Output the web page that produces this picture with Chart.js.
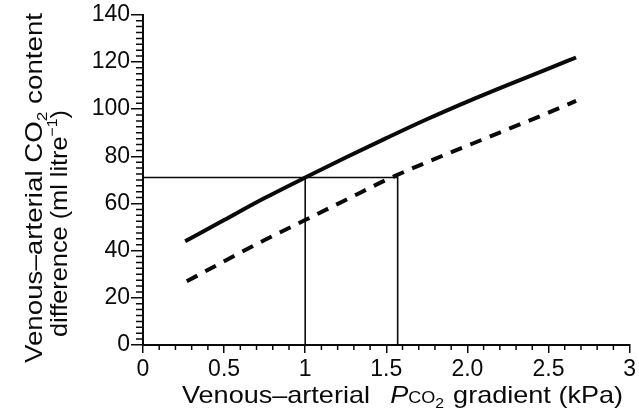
<!DOCTYPE html>
<html>
<head>
<meta charset="utf-8">
<script src="https://cdn.jsdelivr.net/npm/chart.js@4.4.1/dist/chart.umd.min.js"></script>
<style>
  html, body { margin: 0; padding: 0; background: #fff; }
  #wrap { width: 639px; height: 415px; position: relative; }
</style>
</head>
<body>
<div id="wrap"><canvas id="c"></canvas></div>
<script>
/* DATA */
const solidX      = [0.26, 0.5, 0.75, 1.0, 1.25, 1.5, 1.75, 2.0, 2.25, 2.5, 2.67];
const solidY      = [44, 53, 62.3, 71, 79.5, 87.7, 95.7, 103.2, 110.3, 117.2, 121.9];
const dashedX     = [0.27, 0.5, 0.75, 1.0, 1.25, 1.5, 1.75, 2.0, 2.25, 2.5, 2.67];
const dashedY     = [27, 35.5, 44.5, 53, 61.5, 70, 77.5, 84.5, 91.5, 98.5, 103.5];
const refLevel    = 71;     // horizontal guide (ml/l)
const refXSolid   = 1.0;    // kPa where solid curve hits guide
const refXDashed  = 1.57;   // kPa where dashed curve hits guide
const xTickLabels = ['0', '0.5', '1', '1.5', '2.0', '2.5', '3'];
const yTickStep   = 20;
const xMinorStep  = 0.1;
const yMinorStep  = 2.5;

const FONT = '"Liberation Sans", Arial, Helvetica, sans-serif';
const INK  = '#0a0a0a';

function pts(xs, ys) {
  return xs.map(function (x, i) { return { x: x, y: ys[i] }; });
}

/* RICH TEXT HELPER (sub/superscripts, stretched to a width) */
function drawRich(ctx, parts, width) {
  var total = 0;
  parts.forEach(function (p) {
    ctx.font = p.font;
    p.w = ctx.measureText(p.t).width;
    total += p.w + (p.gap || 0);
  });
  var sx = width ? width / total : 1;
  ctx.save();
  ctx.scale(sx, 1);
  var cx = 0;
  parts.forEach(function (p) {
    cx += (p.gap || 0);
    ctx.font = p.font;
    ctx.fillText(p.t, cx, p.dy || 0);
    cx += p.w;
  });
  ctx.restore();
}

/* MINOR TICKS + AXIS TITLES */
const axisDecor = {
  id: 'axisDecor',
  afterDraw: function (chart) {
    var ctx = chart.ctx, xs = chart.scales.x, ys = chart.scales.y;
    var left = chart.chartArea.left, bottom = chart.chartArea.bottom;
    ctx.save();
    ctx.strokeStyle = INK;
    ctx.lineWidth = 1.5;
    ctx.beginPath();
    for (var v = xMinorStep; v < xs.max - 1e-6; v += xMinorStep) {
      if (Math.abs(v / 0.5 - Math.round(v / 0.5)) < 1e-6) continue;
      var px = xs.getPixelForValue(v);
      ctx.moveTo(px, bottom);
      ctx.lineTo(px, bottom + 5);
    }
    for (var w = yMinorStep; w < ys.max - 1e-6; w += yMinorStep) {
      if (w % yTickStep === 0) continue;
      var py = ys.getPixelForValue(w);
      ctx.moveTo(left - 7, py);
      ctx.lineTo(left, py);
    }
    ctx.stroke();

    ctx.fillStyle = INK;
    ctx.textBaseline = 'alphabetic';
    ctx.textAlign = 'left';
    /* x title */
    ctx.save();
    ctx.translate(182, 403);
    drawRich(ctx, [
      { t: 'Venous\u2013arterial', font: '24px ' + FONT },
      { t: 'P', font: 'italic 24px ' + FONT, gap: 18 },
      { t: 'CO', font: '16px ' + FONT },
      { t: '2', font: '14px ' + FONT, dy: 5 },
      { t: 'gradient (kPa)', font: '24px ' + FONT, gap: 8 }
    ], 441);
    ctx.restore();
    /* y title, line 1 */
    ctx.save();
    ctx.translate(42, 363);
    ctx.rotate(-Math.PI / 2);
    drawRich(ctx, [
      { t: 'Venous\u2013arterial CO', font: '24px ' + FONT },
      { t: '2', font: '15px ' + FONT, dy: 5 },
      { t: ' content', font: '24px ' + FONT }
    ], 350);
    ctx.restore();
    /* y title, line 2 */
    ctx.save();
    ctx.translate(67, 337);
    ctx.rotate(-Math.PI / 2);
    drawRich(ctx, [
      { t: 'difference (ml litre', font: '24px ' + FONT },
      { t: '\u22121', font: '15px ' + FONT, dy: -10 },
      { t: ')', font: '24px ' + FONT }
    ], 227);
    ctx.restore();
    ctx.restore();
  }
};

new Chart(document.getElementById('c'), {
  type: 'line',
  data: {
    datasets: [
      {
        label: 'solid',
        data: pts(solidX, solidY),
        borderColor: INK, borderWidth: 4,
        pointRadius: 0, cubicInterpolationMode: 'monotone', order: 1
      },
      {
        label: 'dashed',
        data: pts(dashedX, dashedY),
        borderColor: INK, borderWidth: 4, borderDash: [12, 9],
        pointRadius: 0, cubicInterpolationMode: 'monotone', order: 2
      },
      {
        label: 'guide',
        data: [{ x: 0, y: refLevel }, { x: refXDashed, y: refLevel }, { x: refXDashed, y: 0 }],
        borderColor: INK, borderWidth: 1.6,
        pointRadius: 0, tension: 0, order: 3
      },
      {
        label: 'guide2',
        data: [{ x: refXSolid, y: 0 }, { x: refXSolid, y: refLevel }],
        borderColor: INK, borderWidth: 1.6,
        pointRadius: 0, tension: 0, order: 4
      }
    ]
  },
  options: {
    responsive: true,
    maintainAspectRatio: false,
    animation: false,
    events: [],
    layout: { padding: { top: 11, right: 9, left: 0, bottom: 0 } },
    plugins: { legend: { display: false }, tooltip: { enabled: false } },
    scales: {
      x: {
        type: 'linear', min: 0, max: 3,
        afterFit: function (s) { s.height = 70; },
        ticks: {
          stepSize: 0.5, color: INK, padding: 3, maxRotation: 0,
          font: { family: FONT, size: 23 },
          callback: function (v, i) { return xTickLabels[i]; }
        },
        grid: { drawOnChartArea: false, tickLength: 8, color: INK, lineWidth: 1.5 },
        border: { color: INK, width: 2 }
      },
      y: {
        min: 0, max: 140,
        afterFit: function (s) { s.width = 143; },
        ticks: {
          stepSize: yTickStep, color: INK, padding: 1,
          font: { family: FONT, size: 23 }
        },
        grid: { drawOnChartArea: false, tickLength: 12, color: INK, lineWidth: 1.5 },
        border: { color: INK, width: 2 }
      }
    }
  },
  plugins: [axisDecor]
});
</script>
</body>
</html>
